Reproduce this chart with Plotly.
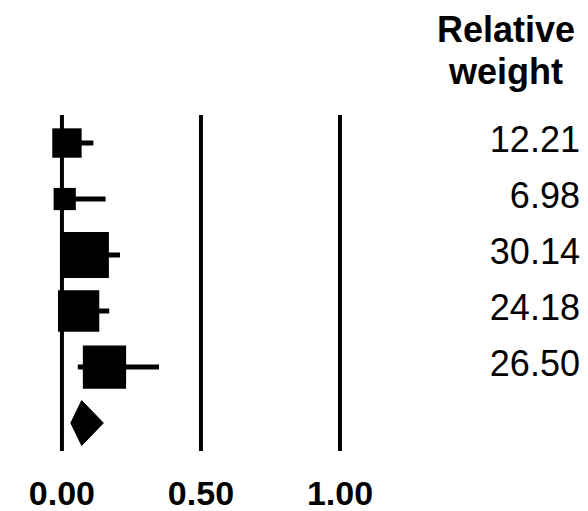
import numpy as np
import plotly.graph_objects as go

# ---- data ----
rows = [1, 2, 3, 4, 5]
estimate = [0.018, 0.010, 0.086, 0.060, 0.153]
ci_low = [-0.020, -0.020, 0.000, 0.000, 0.057]
ci_high = [0.113, 0.157, 0.209, 0.170, 0.349]
weights = [12.21, 6.98, 30.14, 24.18, 26.50]
weight_labels = ["12.21", "6.98", "30.14", "24.18", "26.50"]

pooled_row = 6
pooled_est = 0.071
pooled_low = 0.032
pooled_high = 0.149

ref_lines = [0.0, 0.5, 1.0]
tick_vals = [0.0, 0.5, 1.0]
tick_text = ["0.00", "0.50", "1.00"]
header_lines = ["Relative", "weight"]

FONT = "Arial, Liberation Sans, Helvetica, sans-serif"

fig = go.Figure()

# study squares with CIs
fig.add_trace(go.Scatter(
    x=estimate, y=rows, mode="markers",
    marker=dict(symbol="square", color="black", opacity=1,
                size=[8.4 * np.sqrt(w) for w in weights], line=dict(width=0)),
    error_x=dict(type="data", symmetric=False,
                 array=[h - e for h, e in zip(ci_high, estimate)],
                 arrayminus=[e - l for e, l in zip(estimate, ci_low)],
                 width=0, thickness=5, color="black"),
    hoverinfo="skip", showlegend=False, cliponaxis=False,
))

# pooled diamond
dh = 0.4
fig.add_trace(go.Scatter(
    x=[pooled_low, pooled_est, pooled_high, pooled_est, pooled_low],
    y=[pooled_row, pooled_row - dh, pooled_row, pooled_row + dh, pooled_row],
    mode="lines", fill="toself", fillcolor="black",
    line=dict(color="black", width=1),
    hoverinfo="skip", showlegend=False,
))

# weight column
fig.add_trace(go.Scatter(
    x=[1.863] * len(rows), y=rows, mode="text",
    text=weight_labels, textposition="middle left",
    textfont=dict(family=FONT, size=36, color="black"),
    hoverinfo="skip", showlegend=False, cliponaxis=False,
))

# vertical reference lines
for xv in ref_lines:
    fig.add_shape(type="line", xref="x", yref="y",
                  x0=xv, x1=xv, y0=0.5, y1=6.5,
                  line=dict(color="black", width=4), layer="below")

# header
for i, t in enumerate(header_lines):
    fig.add_annotation(x=1.597, y=[-1.02, -0.27][i], xref="x", yref="y",
                       text="<b>%s</b>" % t, showarrow=False,
                       xanchor="center", yanchor="middle",
                       font=dict(family=FONT, size=36, color="black"))

fig.update_layout(
    width=580, height=503,
    margin=dict(l=0, r=0, t=0, b=41, pad=0),
    paper_bgcolor="white", plot_bgcolor="white",
    xaxis=dict(range=[-0.194, 1.892], showgrid=False, zeroline=False,
               showline=False, tickvals=tick_vals,
               ticktext=["<b>%s</b>" % t for t in tick_text],
               ticks="", tickfont=dict(family=FONT, size=34, color="black"),
               automargin=False, fixedrange=True),
    yaxis=dict(range=[6.839, -1.411], showgrid=False, zeroline=False,
               showline=False, showticklabels=False, ticks="",
               automargin=False, fixedrange=True),
)

fig.write_html("out.html", config={"displayModeBar": False})
